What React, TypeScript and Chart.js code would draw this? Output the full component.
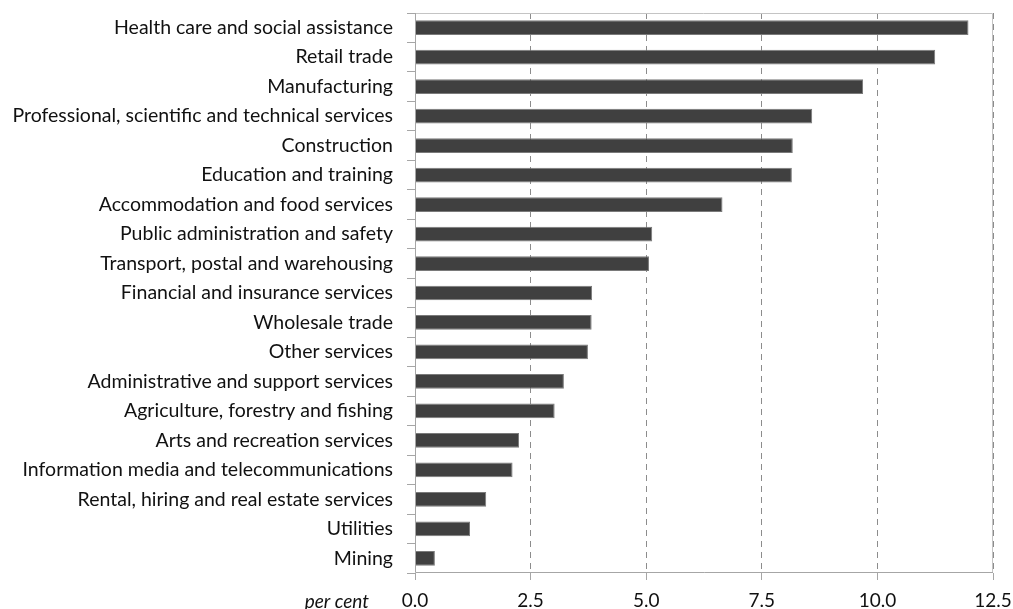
import React, { useEffect, useRef } from 'react';
import { Chart, registerables } from 'chart.js';

Chart.register(...registerables);

const industries = [
  'Health care and social assistance',
  'Retail trade',
  'Manufacturing',
  'Professional, scientific and technical services',
  'Construction',
  'Education and training',
  'Accommodation and food services',
  'Public administration and safety',
  'Transport, postal and warehousing',
  'Financial and insurance services',
  'Wholesale trade',
  'Other services',
  'Administrative and support services',
  'Agriculture, forestry and fishing',
  'Arts and recreation services',
  'Information media and telecommunications',
  'Rental, hiring and real estate services',
  'Utilities',
  'Mining',
];

const shares = [
  11.97, 11.25, 9.69, 8.59, 8.17, 8.15, 6.65, 5.13, 5.06, 3.83, 3.82, 3.74,
  3.22, 3.02, 2.25, 2.11, 1.54, 1.19, 0.43,
];

const xTickValues = [0, 2.5, 5, 7.5, 10, 12.5];
const xAxisTitle = 'per cent';

const FONT = 'Lato, "DejaVu Sans", sans-serif';

// light box round the plot area + the "per cent" label left of the axis
const framePlugin = {
  id: 'frame',
  afterDatasetsDraw(chart: any) {
    const { ctx, chartArea: a } = chart;
    ctx.save();
    ctx.lineWidth = 1;
    ctx.strokeStyle = '#c4c4c4';
    ctx.beginPath();
    ctx.moveTo(a.left, a.top + 0.5);
    ctx.lineTo(a.right - 0.5, a.top + 0.5);
    ctx.lineTo(a.right - 0.5, a.bottom);
    ctx.stroke();
    ctx.strokeStyle = '#a6a6a6';
    ctx.beginPath();
    ctx.moveTo(a.left + 0.5, a.top);
    ctx.lineTo(a.left + 0.5, a.bottom - 0.5);
    ctx.lineTo(a.right, a.bottom - 0.5);
    ctx.stroke();
    ctx.restore();
  },
  afterDraw(chart: any) {
    const { ctx, chartArea: a } = chart;
    ctx.save();
    ctx.font = `italic 19px ${FONT}`;
    ctx.fillStyle = '#111';
    ctx.textAlign = 'right';
    ctx.textBaseline = 'middle';
    ctx.fillText(xAxisTitle, a.left - 46, a.bottom + 29);
    ctx.restore();
  },
};

const App: React.FC = () => {
  const canvasRef = useRef<HTMLCanvasElement | null>(null);

  useEffect(() => {
    const ctx = canvasRef.current?.getContext('2d');
    if (!ctx) return;

    const chart = new Chart(ctx, {
      type: 'bar',
      data: {
        labels: industries,
        datasets: [
          {
            data: shares,
            backgroundColor: '#404040',
            borderColor: '#7a7a7a',
            borderWidth: 1,
            categoryPercentage: 1,
            barPercentage: 0.5,
          },
        ],
      },
      options: {
        indexAxis: 'y',
        animation: false,
        responsive: true,
        maintainAspectRatio: false,
        layout: { padding: { top: 13, right: 20, left: 0, bottom: 0 } },
        plugins: {
          legend: { display: false },
          tooltip: { enabled: false },
        },
        scales: {
          x: {
            min: 0,
            max: 12.5,
            afterBuildTicks: (scale: any) => {
              scale.ticks = xTickValues.map((v) => ({ value: v }));
            },
            afterFit: (scale: any) => {
              scale.height = 36;
              scale.paddingLeft = 0;
              scale.paddingRight = 0;
            },
            ticks: {
              callback: (value: any) => Number(value).toFixed(1),
              color: '#111',
              font: { family: FONT, size: 19 },
              padding: 9,
              maxRotation: 0,
            },
            grid: {
              color: '#8c8c8c',
              lineWidth: 1,
              tickLength: 7,
              tickColor: '#a6a6a6',
              tickBorderDash: [],
            },
            border: { display: false, dash: [6, 5] },
          },
          y: {
            afterFit: (scale: any) => {
              scale.width = 415;
              scale.paddingTop = 0;
              scale.paddingBottom = 0;
            },
            ticks: {
              color: '#111',
              font: { family: FONT, size: 19.5 },
              padding: 14,
              autoSkip: false,
            },
            grid: {
              offset: true,
              drawOnChartArea: false,
              tickLength: 8,
              color: '#a6a6a6',
            },
            border: { display: false },
          },
        },
      },
      plugins: [framePlugin],
    });

    return () => {
      chart.destroy();
    };
  }, []);

  return (
    <div style={{ position: 'fixed', left: 0, top: 0, width: 1013, height: 609, background: '#fff' }}>
      <canvas ref={canvasRef}></canvas>
    </div>
  );
};

export default App;
